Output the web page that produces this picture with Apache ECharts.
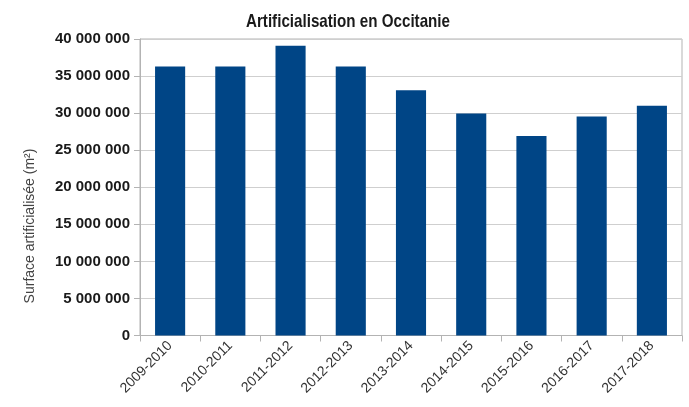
<!DOCTYPE html>
<html>
<head>
<meta charset="utf-8">
<script src="https://cdn.jsdelivr.net/npm/echarts@6/dist/echarts.min.js"></script>
<style>
html,body{margin:0;padding:0;background:#fff;}
#c{width:689px;height:407px;}
</style>
</head>
<body>
<div id="c"></div>
<script>
const categories = ['2009-2010','2010-2011','2011-2012','2012-2013','2013-2014','2014-2015','2015-2016','2016-2017','2017-2018'];
const surfaceValues = [36300000, 36300000, 39100000, 36300000, 33100000, 29950000, 26900000, 29550000, 31000000];
const yTicks = { min: 0, max: 40000000, interval: 5000000 };
const titleText = 'Artificialisation en Occitanie';
const yAxisTitle = 'Surface artificialisée (m²)';

const fmt = v => String(v).replace(/\B(?=(\d{3})+(?!\d))/g, ' ');

const chart = echarts.init(document.getElementById('c'), null, {renderer:'canvas'});
chart.setOption({
  animation: false,
  backgroundColor: '#ffffff',
  grid: { left: 140, right: 7, top: 39, bottom: 71.5, show: true, borderColor: '#b3b3b3', borderWidth: 1 },
  xAxis: {
    type: 'category',
    data: categories,
    axisLine: { lineStyle: { color: '#b3b3b3' } },
    axisTick: { show: true, length: 6, lineStyle: { color: '#b3b3b3' } },
    axisLabel: { rotate: 45, fontFamily: 'Liberation Sans', fontSize: 14, color: '#333', margin: 8 }
  },
  yAxis: {
    type: 'value',
    min: yTicks.min, max: yTicks.max, interval: yTicks.interval,
    axisLine: { show: true, lineStyle: { color: '#b3b3b3' } },
    axisTick: { show: true, length: 6, lineStyle: { color: '#b3b3b3' } },
    splitLine: { lineStyle: { color: '#cfcfcf' } },
    axisLabel: { formatter: fmt, fontFamily: 'Liberation Sans', fontWeight: 'bold', fontSize: 15, color: '#1a1a1a', margin: 10 }
  },
  graphic: [{
    type: 'text',
    x: 348, y: 22,
    scaleX: 0.82,
    style: { text: titleText, font: 'bold 18.5px "Liberation Sans"', fill: '#1a1a1a', textAlign: 'center', textVerticalAlign: 'middle' }
  }, {
    type: 'text',
    x: 30, y: 226,
    rotation: Math.PI / 2,
    style: { text: yAxisTitle, font: '14px "Liberation Sans"', fill: '#444', textAlign: 'center', textVerticalAlign: 'middle' }
  }],
  series: [{
    type: 'bar',
    data: surfaceValues,
    barWidth: '50%',
    itemStyle: { color: '#004586' }
  }]
});
</script>
</body>
</html>
